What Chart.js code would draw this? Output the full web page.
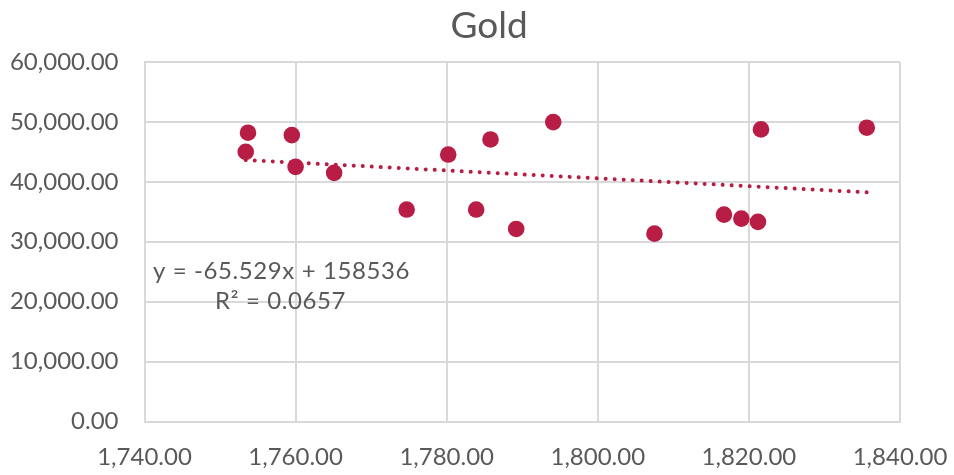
<!DOCTYPE html>
<html>
<head>
<meta charset="utf-8">
<script src="https://cdn.jsdelivr.net/npm/chart.js@4.4.1/dist/chart.umd.min.js"></script>
<style>
  html, body { margin: 0; padding: 0; background: #ffffff; }
  #wrap { width: 954px; height: 475px; position: relative; }
</style>
</head>
<body>
<div id="wrap"><canvas id="chart" width="954" height="475"></canvas></div>
<script>
// Gold: price pairs
const goldX = [1753.7, 1753.4, 1759.5, 1760.0, 1765.1, 1774.7, 1780.2, 1783.9, 1785.8,
               1789.2, 1794.1, 1807.5, 1816.7, 1819.0, 1821.2, 1821.6, 1835.6];
const goldY = [48200, 45000, 47800, 42500, 41500, 35370, 44560, 35370, 47070,
               32140, 49970, 31350, 34530, 33860, 33310, 48750, 49030];

// Linear trendline, as printed on the chart
const slope = -65.529;
const intercept = 158536;
const rSquared = 0.0657;

const xTicks = [1740, 1760, 1780, 1800, 1820, 1840];
const yTicks = [0, 10000, 20000, 30000, 40000, 50000, 60000];

const points = goldX.map((x, i) => ({ x: x, y: goldY[i] }));
const xMin = Math.min(...goldX), xMax = Math.max(...goldX);
const trend = [xMin, xMax].map(x => ({ x: x, y: slope * x + intercept }));

const RED = '#B81D45';
const TEXT = '#595959';
const GRID = '#D9D9D9';
const FONT = 'Lato, "Open Sans", sans-serif';

const fmt = v => v.toLocaleString('en-US', { minimumFractionDigits: 2, maximumFractionDigits: 2 });

const textPlugin = {
  id: 'chartText',
  afterDraw(chart) {
    const ctx = chart.ctx;
    const a = chart.chartArea;
    ctx.save();
    ctx.fillStyle = TEXT;
    ctx.textAlign = 'center';
    ctx.textBaseline = 'alphabetic';
    ctx.font = '37px ' + FONT;
    ctx.fillText('Gold', 489, 38);
    ctx.font = '24px ' + FONT;
    if ('letterSpacing' in ctx) ctx.letterSpacing = '0.6px';
    const sign = intercept >= 0 ? '+ ' : '- ';
    ctx.fillText('y = ' + slope + 'x ' + sign + Math.abs(intercept), a.left + 137, 279);
    ctx.fillText('R\u00B2 = ' + rSquared, a.left + 136, 309);
    ctx.restore();
  }
};

new Chart(document.getElementById('chart'), {
  type: 'scatter',
  data: {
    datasets: [
      {
        label: 'Gold',
        data: points,
        backgroundColor: RED,
        borderColor: RED,
        pointRadius: 8.3,
        pointHoverRadius: 8.3,
        borderWidth: 0,
        order: 2
      },
      {
        label: 'Trend',
        data: trend,
        showLine: true,
        pointRadius: 0,
        borderColor: RED,
        borderWidth: 4,
        borderDash: [0.01, 9],
        borderCapStyle: 'round',
        fill: false,
        order: 1
      }
    ]
  },
  options: {
    responsive: false,
    animation: false,
    devicePixelRatio: 1,
    layout: { padding: { left: 0, right: 54, top: 62, bottom: 0 } },
    plugins: {
      legend: { display: false },
      title: { display: false },
      tooltip: { enabled: false }
    },
    scales: {
      x: {
        type: 'linear',
        min: xTicks[0],
        max: xTicks[xTicks.length - 1],
        afterBuildTicks: s => { s.ticks = xTicks.map(v => ({ value: v })); },
        afterFit: s => { s.height = 53.5; s.paddingLeft = 0; s.paddingRight = 0; },
        grid: { color: GRID, lineWidth: 2, drawTicks: false },
        border: { color: GRID, width: 2 },
        ticks: { color: TEXT, font: { family: FONT, size: 24 }, padding: 21, callback: v => fmt(v), maxRotation: 0 }
      },
      y: {
        type: 'linear',
        min: yTicks[0],
        max: yTicks[yTicks.length - 1],
        afterBuildTicks: s => { s.ticks = yTicks.map(v => ({ value: v })); },
        afterFit: s => { s.width = 144.5; s.paddingTop = 0; s.paddingBottom = 0; },
        grid: { color: GRID, lineWidth: 2, drawTicks: false },
        border: { color: GRID, width: 2 },
        ticks: { color: TEXT, font: { family: FONT, size: 24 }, padding: 26, callback: v => fmt(v) }
      }
    }
  },
  plugins: [textPlugin]
});
</script>
</body>
</html>
